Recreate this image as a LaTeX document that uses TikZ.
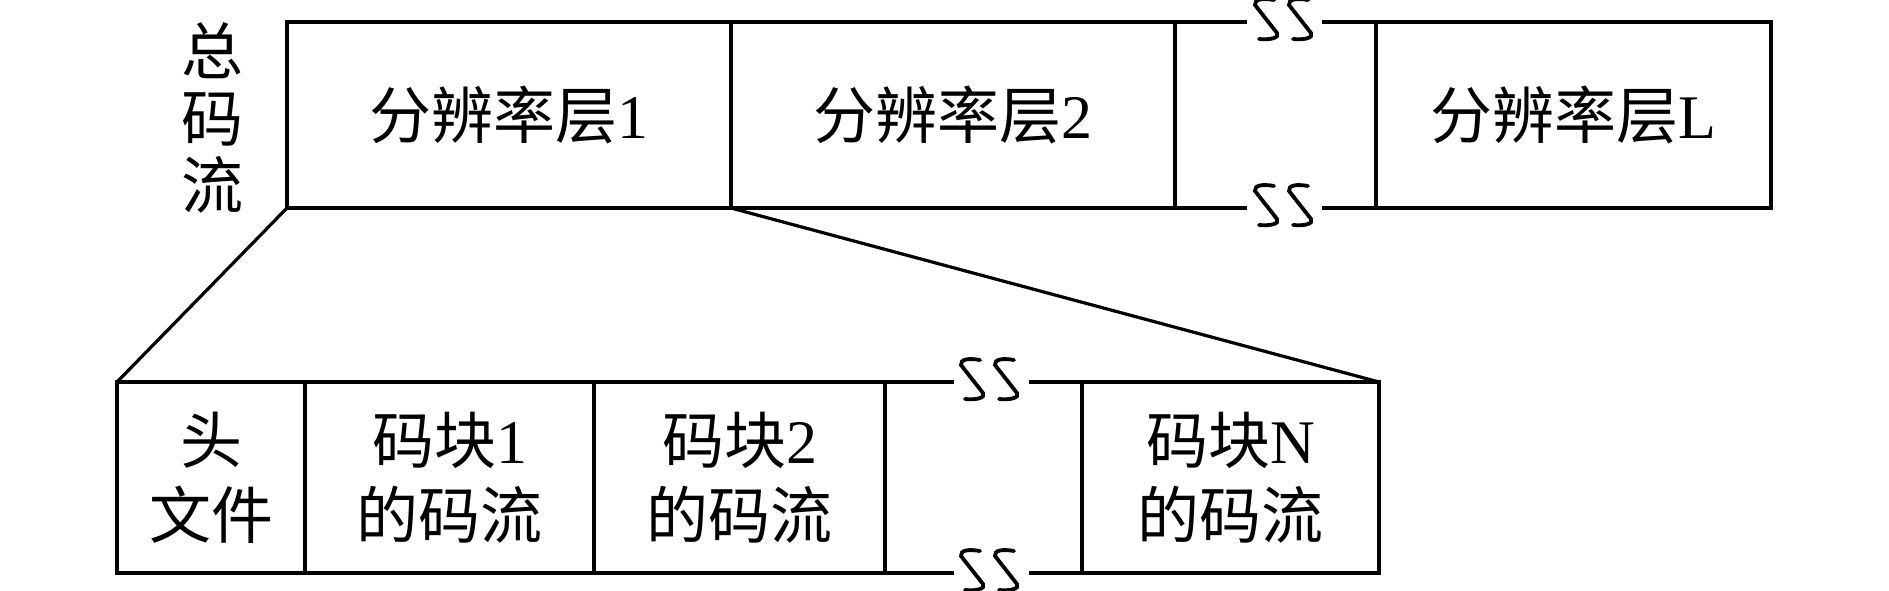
\documentclass[tikz,border=0pt]{standalone}
\usepackage{fontspec}
\setmainfont{Liberation Serif}
\newfontfamily\cjk{Noto Sans CJK SC}
\newcommand\breakmark[2]{%
  \draw[brk, shift={(#1,#2)}] (8,-19) .. controls (-3,-21) and (-12,-20) .. (-11,-14)
     -- (11,14) .. controls (14,19) and (4,21) .. (-7,20);}
\tikzset{
  cell/.style={draw, line width=4pt, inner sep=0pt, outer sep=0pt, align=center,
    font=\fontsize{62}{75}\selectfont},
  toprow/.style={cell, minimum height=186pt},
  botrow/.style={cell, minimum height=191pt},
  rule/.style={line width=4pt},
  fan/.style={line width=3.2pt},
  brk/.style={line width=3.8pt, line cap=round},
  side/.style={inner sep=0pt, align=center, font=\fontsize{62}{67}\selectfont},
}
\begin{document}
\begin{tikzpicture}[x=1pt,y=-1pt]
\useasboundingbox (0,0) rectangle (1889,590);
% top row
\node[side] (total) at (212,118) {\cjk 总\\\cjk 码\\\cjk 流};
\node[toprow, minimum width=444pt] (l1) at (509,115) {{\cjk 分辨率层}1};
\node[toprow, minimum width=444pt] (l2) at (953,115) {{\cjk 分辨率层}2};
\node[toprow, minimum width=395pt] (lL) at (1573.5,115) {{\cjk 分辨率层}L};
\coordinate (ta) at (1247,22);
\coordinate (tb) at (1322,22);
\coordinate (ba) at (1247,208);
\coordinate (bb) at (1322,208);
\draw[rule] (l2.north east) -- (ta);
\draw[rule] (tb) -- (lL.north west);
\draw[rule] (l2.south east) -- (ba);
\draw[rule] (bb) -- (lL.south west);
\breakmark{1266}{19}
\breakmark{1300}{19}
\breakmark{1266}{205}
\breakmark{1300}{205}
% bottom row
\node[botrow, minimum width=188pt] (h) at (211,477.5) {{\cjk 头}\\{\cjk 文件}};
\node[botrow, minimum width=289pt] (c1) at (449.5,477.5) {{\cjk 码块}1\\{\cjk 的码流}};
\node[botrow, minimum width=291pt] (c2) at (739.5,477.5) {{\cjk 码块}2\\{\cjk 的码流}};
\node[botrow, minimum width=297pt] (cN) at (1230.5,477.5) {{\cjk 码块}N\\{\cjk 的码流}};
\coordinate (pa) at (954,382);
\coordinate (pb) at (1029,382);
\coordinate (qa) at (954,573);
\coordinate (qb) at (1029,573);
\draw[rule] (c2.north east) -- (pa);
\draw[rule] (pb) -- (cN.north west);
\draw[rule] (c2.south east) -- (qa);
\draw[rule] (qb) -- (cN.south west);
\breakmark{972}{379}
\breakmark{1006}{379}
\breakmark{972}{570}
\breakmark{1006}{570}
% fan lines
\draw[fan] (l1.south west) -- (h.north west);
\draw[fan] (l1.south east) -- (cN.north east);
\end{tikzpicture}
\end{document}
